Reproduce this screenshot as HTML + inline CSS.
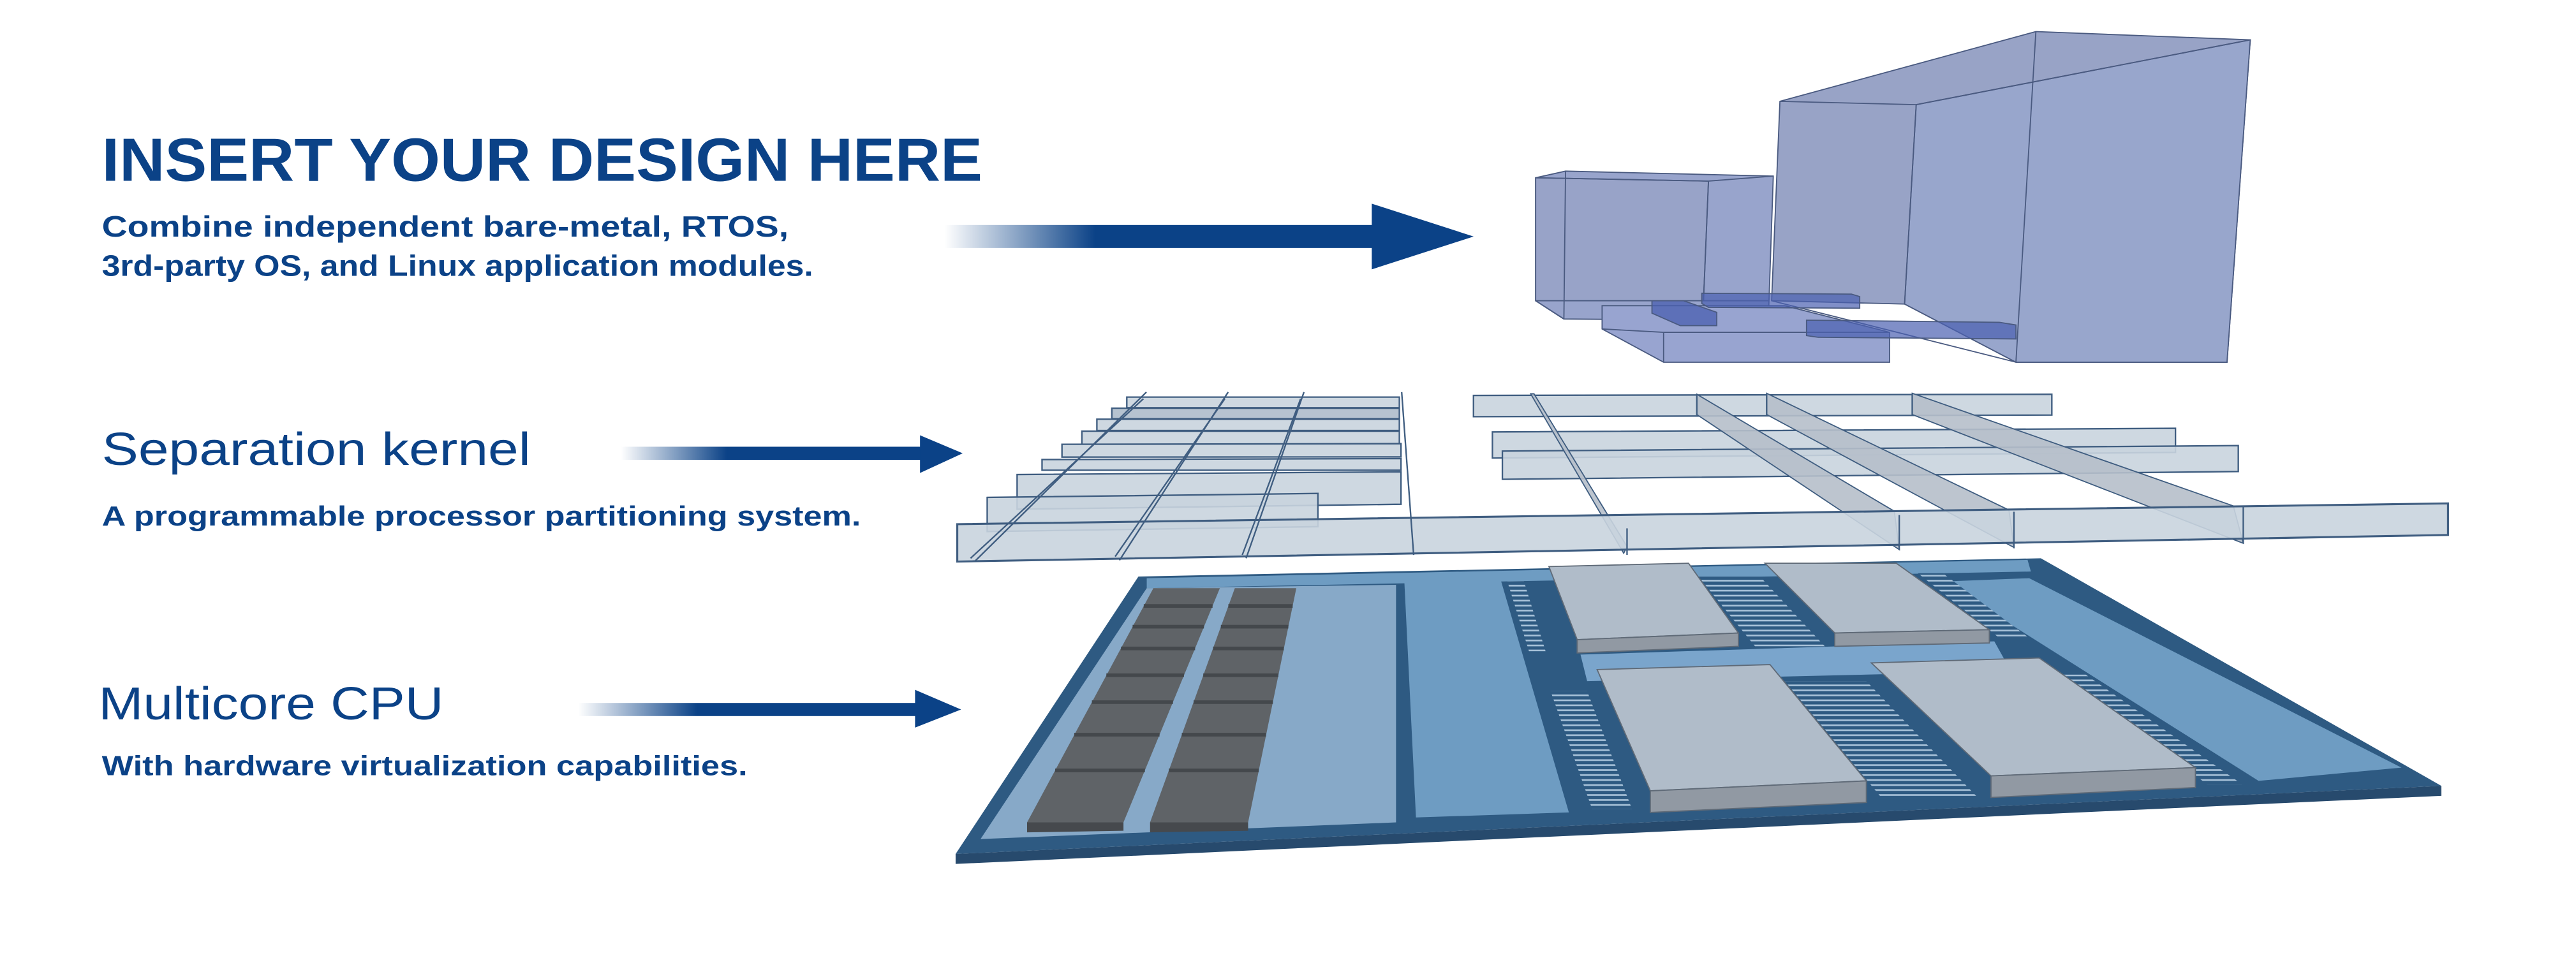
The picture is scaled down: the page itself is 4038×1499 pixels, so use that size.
<!DOCTYPE html>
<html><head><meta charset="utf-8"><style>
html,body{margin:0;padding:0;background:#fff;}
svg{display:block;}
text{font-family:"Liberation Sans",sans-serif;fill:#0b4287;}
</style></head><body>
<svg width="4038" height="1499" viewBox="0 0 1550 575.4" preserveAspectRatio="none" xmlns="http://www.w3.org/2000/svg">
<defs>
<linearGradient id="ga" x1="0" x2="1" y1="0" y2="0"><stop offset="0" stop-color="#fff"/><stop offset="0.35" stop-color="#0b4287"/><stop offset="1" stop-color="#0b4287"/></linearGradient>
<pattern id="pins" width="6" height="3" patternUnits="userSpaceOnUse"><rect width="6" height="3" fill="#2e5a82"/><rect y="1" width="6" height="1" fill="#a9c3da"/></pattern>
</defs>

<g transform="scale(0.98852)">
<text x="62" y="110" font-size="37" font-weight="bold" textLength="536" lengthAdjust="spacingAndGlyphs">INSERT YOUR DESIGN HERE</text>
<text x="62" y="144" font-size="18" font-weight="bold" textLength="418" lengthAdjust="spacingAndGlyphs">Combine independent bare-metal, RTOS,</text>
<text x="62" y="168" font-size="18" font-weight="bold" textLength="433" lengthAdjust="spacingAndGlyphs">3rd-party OS, and Linux application modules.</text>
<text x="62" y="283" font-size="28" textLength="261" lengthAdjust="spacingAndGlyphs">Separation kernel</text>
<text x="62" y="320" font-size="17" font-weight="bold" textLength="462" lengthAdjust="spacingAndGlyphs">A programmable processor partitioning system.</text>
<text x="60" y="438" font-size="28" textLength="210" lengthAdjust="spacingAndGlyphs">Multicore CPU</text>
<text x="62" y="472" font-size="17" font-weight="bold" textLength="393" lengthAdjust="spacingAndGlyphs">With hardware virtualization capabilities.</text>
<rect x="575" y="137" width="262" height="14" fill="url(#ga)"/>
<polygon points="835,124 897,144 835,164" fill="#0b4287"/>
<rect x="378" y="272" width="184" height="8" fill="url(#ga)"/>
<polygon points="560,265 586,276 560,288" fill="#0b4287"/>
<rect x="352" y="428" width="207" height="8" fill="url(#ga)"/>
<polygon points="557,420 585,432 557,443" fill="#0b4287"/>
</g>

<!-- Top boxes -->
<g stroke="#4a5a80" stroke-width="0.7">
<polygon points="1071,61 1225,19 1354,24 1340,218 1213,218 1146,183 1066,181" fill="#98a3c6"/>
<polygon points="1153,63 1354,24 1340,218 1213,218 1146,183" fill="#98a6cc"/>
<polyline points="1071,61 1153,63 1354,24" fill="none"/>
<line x1="1153" y1="63" x2="1146" y2="183"/>
<line x1="1225" y1="19" x2="1213" y2="218"/>
<polygon points="924,107 942,103 1067,106 1064,193 941,192 924,181" fill="#98a4cc"/>
<polygon points="924,107 1028,109 1025,181 924,181" fill="#98a3c8"/>
<polyline points="924,107 1028,109 1067,106" fill="none"/>
<line x1="1028" y1="109" x2="1025" y2="181"/>
<line x1="942" y1="103" x2="941" y2="192"/>
<line x1="924" y1="181" x2="941" y2="192"/>
<line x1="924" y1="181" x2="1064" y2="181"/>
<line x1="1066" y1="181" x2="1213" y2="218"/>
<polygon points="964,184 1074,184 1137,200 1137,218 1001,218 964,198" fill="#98a4d0"/>
<polyline points="964,198 1001,200 1137,200" fill="none"/>
<line x1="1001" y1="200" x2="1001" y2="218"/>
<polygon points="994,181 1013,181 1033,188 1033,196 1011,196 994,188.5" fill="#4a5fb0" fill-opacity="0.75"/>
<polygon points="1024,176.5 1114,177 1119,178.5 1119,185.5 1028,185 1024,182.7" fill="#4a5fb0" fill-opacity="0.7"/>
<polygon points="1087,192.7 1203,194 1213,195.6 1213,204 1094,203 1087,202" fill="#4a5fb0" fill-opacity="0.7"/>
</g>

<!-- Kernel layer -->
<g stroke="#3f5d80" stroke-width="0.9" fill="#c9d4de" fill-opacity="0.9">
<polygon points="678,239 842,239 842,245.4 678,245.4"/>
<polygon points="669,245.7 842,245.7 842,252 669,252" fill="#aebccb"/>
<polygon points="660,252.3 842,252.3 842,259.1 660,259.1"/>
<polygon points="651,259.5 842,259.5 842,267.4 651,267.4"/>
<polygon points="639,267.4 843,267 843,275 639,275.1"/>
<polygon points="627,276.6 843,276 843,283 627,283"/>
<polygon points="612,285.6 843,284 843,303.5 612,306.5"/>
<polygon points="594,299.4 793,297 793,317 594,319.9"/>
<polygon points="886.6,238 1234.6,237.3 1234.6,249.8 886.6,250.8"/>
<polygon points="898,260 1309,257.8 1309,272.3 898,275.7"/>
<polygon points="904,271.5 1346.8,268.2 1346.8,283.8 904,288.5"/>
</g>
<g stroke="#3f5d80" stroke-width="0.7" fill="#b6bfca" fill-opacity="0.9">
<polygon points="921,237 923,237 979,329 977,333"/>
<polygon points="1021,237.3 1139.8,307.7 1142.8,330.8 1021,249.5"/>
<polygon points="1063,236.7 1208.8,307 1211.8,329.5 1063,249.5"/>
<polygon points="1150.6,236.7 1343.8,304.5 1349.8,327 1150.6,249.5"/>
</g>
<polygon points="576,315.5 1473,303 1473,322 576,338" fill="#c9d4de" fill-opacity="0.9" stroke="#3f5d80" stroke-width="1.2"/>
<g stroke="#3f5d80" stroke-width="0.9" fill="none">
<line x1="689.8" y1="236" x2="586.6" y2="337.8"/><line x1="688" y1="240" x2="584" y2="336"/>
<line x1="739" y1="236" x2="673.6" y2="337.2"/><line x1="737" y1="240" x2="671" y2="335"/>
<line x1="784.6" y1="236" x2="749.8" y2="336"/><line x1="782.6" y1="240" x2="747.5" y2="334"/>
<line x1="843.4" y1="236" x2="850.6" y2="334"/>
<line x1="979" y1="318" x2="979" y2="334"/><line x1="1142.8" y1="310" x2="1142.8" y2="331"/>
<line x1="1211.8" y1="308" x2="1211.8" y2="330"/><line x1="1349.8" y1="305" x2="1349.8" y2="327"/>
<line x1="1021" y1="237" x2="1021" y2="250"/><line x1="1063" y1="237" x2="1063" y2="250"/><line x1="1150.6" y1="237" x2="1150.6" y2="250"/>
</g>

<!-- CPU chip -->
<polygon points="575,514 1469,473 1469,479 575,520" fill="#274a6d"/>
<polygon points="685,347 1228,336 1469,473 575,514" fill="#2e5a82"/>
<polygon points="690,348 1220,337 1222,344 690,354" fill="#6e9cc2"/>
<polygon points="690,354 840,352 840,495 590,505" fill="#87a9c8"/>
<polygon points="845,350 903,349 944,489 852,492" fill="#6e9cc2"/>
<polygon points="1169,350 1221,348 1445,462 1359,470" fill="#6e9cc2"/>
<polygon points="951,394 1200,386 1210,404 955,410" fill="#7aa5cc"/>
<!-- memory columns -->
<polygon points="694,354 734,354 676,495 618,495" fill="#5f6367"/>
<polygon points="743,354 780,354 751,495 692,495" fill="#5f6367"/>
<polygon points="618,495 676,495 676,500 618,501" fill="#46494d"/>
<polygon points="692,495 751,495 751,500 692,501" fill="#46494d"/>
<g stroke="#44484c" stroke-width="2.2">
<line x1="688.2" y1="364.7" x2="729.6" y2="364.7"/><line x1="739.1" y1="364.7" x2="777.8" y2="364.7"/>
<line x1="681.5" y1="377.2" x2="724.4" y2="377.2"/><line x1="734.6" y1="377.2" x2="775.2" y2="377.2"/>
<line x1="674.5" y1="390.3" x2="719.1" y2="390.3"/><line x1="729.9" y1="390.3" x2="772.5" y2="390.3"/>
<line x1="665.7" y1="406.4" x2="712.4" y2="406.4"/><line x1="724.0" y1="406.4" x2="769.2" y2="406.4"/>
<line x1="657.0" y1="422.6" x2="705.8" y2="422.6"/><line x1="718.2" y1="422.6" x2="765.9" y2="422.6"/>
<line x1="646.4" y1="442.2" x2="697.7" y2="442.2"/><line x1="711.1" y1="442.2" x2="761.8" y2="442.2"/>
<line x1="634.9" y1="463.7" x2="688.9" y2="463.7"/><line x1="703.3" y1="463.7" x2="757.4" y2="463.7"/>
</g>
<!-- pins -->
<polygon points="907,350 917,350 930,392 920,392" fill="url(#pins)"/>
<polygon points="933,416 955,416 982,487 958,487" fill="url(#pins)"/>
<polygon points="1022,347 1059,347 1098,389 1056,389" fill="url(#pins)"/>
<polygon points="1074,410 1123,410 1190,480 1132,480" fill="url(#pins)"/>
<polygon points="1154,345 1169,345 1221,384 1203,384" fill="url(#pins)"/>
<polygon points="1239,406 1255,406 1349,472 1328,472" fill="url(#pins)"/>
<!-- gray boxes -->
<g stroke="#5f6a77" stroke-width="0.7">
<polygon points="932,341 1016,339 1046,381 949,385" fill="#b0bcc9"/>
<polygon points="949,385 1046,381 1046,389 949,393" fill="#9199a3"/>
<polygon points="1062,339 1141,339 1197,379 1104,381" fill="#b0bcc9"/>
<polygon points="1104,381 1197,379 1197,387 1104,389" fill="#9199a3"/>
<polygon points="961,403 1065,400 1123,470 993,476" fill="#b0bcc9"/>
<polygon points="993,476 1123,470 1123,483 993,489" fill="#9199a3"/>
<polygon points="1126,399 1227,396 1321,462 1198,467" fill="#b0bcc9"/>
<polygon points="1198,467 1321,462 1321,474 1198,480" fill="#9199a3"/>
</g>
</svg>
</body></html>
